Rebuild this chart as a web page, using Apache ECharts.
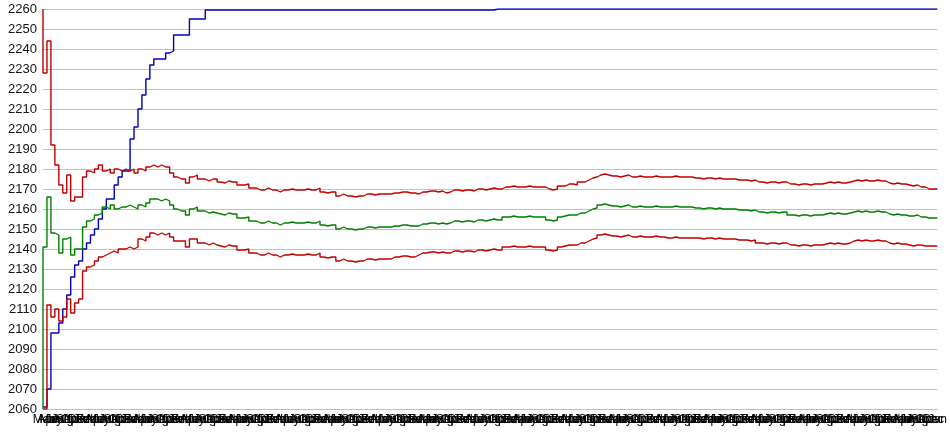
<!DOCTYPE html>
<html>
<head>
<meta charset="utf-8">
<script src="https://cdn.jsdelivr.net/npm/echarts@6/dist/echarts.min.js"></script>
<style>
html,body{margin:0;padding:0;background:#fff;}
#chart{width:950px;height:435px;}
</style>
</head>
<body>
<div id="chart"></div>
<script>
// tick label names used along the category axis
const monthLabels = ["Mar","Apr","May","Jun","Jul","Aug","Sep","Oct","Nov","Dec","Jan","Feb"];

// y-axis range
const yMin = 2060, yMax = 2260, yStep = 10;

// upper red band
const upper = [
2260,2228,2244,2192,2182,2172,2168,2177,2164,2166,2166,2176,2179,2178,2180,2182,2179,2180,2178,2180,2179,2180,2179,
2180,2178,2180,2179,2181,2182,2181,2182,2181,2181,2178,2176,2175,2175,2173,2176,2177,2175,2175,2174,2175,
2175,
2173.5,2173,2174,2173.5,2173.5,
2172,2172,2172.5,
2170.5,2170.5,
2169.5,2169.5,2170.5,2169.5,2169.5,2168.5,2169.5,2169.5,2170,2169.5,2169.5,2169.5,2170,2169.5,2169.5,2170.5,
2168.5,2168,2168.5,2168.5,
2166.5,2167.5,2166.5,2166.5,2166,2166.5,2166.5,
2167.5,2167.5,2167,2167.5,2167.5,2167.5,2167.5,
2168,2168,2168.5,2168.5,2168,2168,
2167.5,2168.5,
2168.5,2169,2169,2168.5,2169,
2168,2168.5,
2169.5,2169.5,2169,2169.5,2169.5,2169,
2170,2170,2169.5,2170,2170.5,2170,2170,
2171,2171,2171.5,2171,2171,2171,2171.5,2171,2171,2171,2171,
2170,2169.5,2170,
2171.5,2171.5,
2172.5,2172.5,2172,
2173.5,2173.5,
2174.5,
2175.5,2176,
2177,2177.5,2177,
2176.5,2176.5,2176,2176.5,
2177,
2176,2176,2176.5,2176,2176,2176,2176.5,2176,2176,2176,2176,2176.5,2176,2176,2176,2176,
2175.5,2175.5,2175,2175.5,2175.5,2175,2175.5,2175,2175,2175,2175,
2174.5,2174.5,2174.5,2174,2174.5,
2173.5,2173.5,2173,2173.5,2173.5,2173,2173.5,2173.5,
2172.5,2172.5,2172,2172.5,2172.5,2172,2172.5,2172.5,2172.5,
2173,2173.5,2173,2173.5,2173,2173,2173.5,
2174,2174.5,2174,2174.5,2174,2174,2174.5,2174,2174,
2173,2172.5,2173,2172.5,2172.5,
2172,2171.5,2172,
2171,2171,
2170,2170,2170
];

// middle green line
const middle = [
2060,2141,2166,2148,2147,2138,2145,2146,2137,2140,2140,2151,2154,2155,2157,2158,2161,2160,2162,2160,2161,2161,2162,
2161,2160,2162,2161,2163,2165,2165,2164,2165,2164,2162,2160,2159,2159,2157,2160,2161,2159,2159,2158,2158.5,
2158,
2157.5,2157,2158,2157.5,2157.5,
2155.5,2155.5,2156,
2154,2154,
2153,2153,2154,2153,2153,2152,2153,2153,2153.5,2153,2153,2153,2153.5,2153,2153,2154,
2152,2151.5,2152,2152,
2150,2151,2150,2150,2149.5,2150,2150,
2151,2151,2150.5,2151,2151,2151,2151,
2151.5,2151.5,2152,2152,2151.5,2151.5,
2151.5,2152.5,
2152.5,2153,2153,2152.5,2153,
2152.5,2153,
2154,2154,2153.5,2154,2154,2153.5,
2154.5,2154.5,2154,2154.5,2155,2154.5,2154.5,
2156,2156,2156.5,2156,2156,2156,2156.5,2156,2156,2156,2156,
2154.5,2154,2154.5,
2156,2156.5,
2157,2157,2157,
2158,2158,
2159,
2160,2160.5,
2162,2162.5,2162,
2161.5,2161.5,2161,2161.5,
2162,
2161,2161,2161.5,2161,2161,2161,2161.5,2161,2161,2161,2161,2161.5,2161,2161,2161,2161,
2160.5,2160.5,2160,2160.5,2160.5,2160,2160.5,2160,2160,2160,2160,
2159.5,2159.5,2159.5,2159,2159.5,
2158.5,2158.5,2158,2158.5,2158.5,2158,2158.5,2158.5,
2157,2157,2156.5,2157,2157,2156.5,2157,2157,2157,
2157.5,2158,2157.5,2158,2157.5,2157.5,2158,
2158.5,2159,2158.5,2159,2158.5,2158.5,2159,2158.5,2158.5,
2157.5,2157,2157.5,2157,2157,
2156.5,2156.5,2157,
2156,2156,
2155.5,2155.5,2155.5
];

// lower red band
const lower = [
2060,2060,2112,2106,2110,2104,2106,2115,2108,2113,2115,2129,2131,2132,2134,2136,2137,2138,2139,2138,2140,2140,2141,
2140,2141,2145,2144,2146,2148,2147,2148,2147,2148,2146,2144,2144,2144,2141,2145,2145,2143,2143,2142,2143,
2142,
2141.5,2141,2142,2141.5,2141.5,
2139.5,2139.5,2140,
2138,2138,
2137,2137,2138,2137,2137,2136,2137,2137,2137.5,2137,2137,2137,2137.5,2137,2137,2138,
2136,2135.5,2136,2136,
2134,2135,2134,2134,2133.5,2134,2134,
2135,2135,2134.5,2135,2135,2135,2135,
2136,2136,2136.5,2136.5,2136,2136,
2137,2138,
2138,2138.5,2138.5,2138,2138.5,
2138,2138,
2139,2139,2138.5,2139,2139,2138.5,
2139.5,2139.5,2139,2139.5,2140,2139.5,2139.5,
2141,2141,2141.5,2141,2141,2141,2141.5,2141,2141,2141,2141,
2139.5,2139,2139.5,
2141,2141.5,
2142,2142,2142,
2143,2143,
2144,
2145,2145.5,
2147,2147.5,2147,
2146.5,2146.5,2146,2146.5,
2147,
2146,2146,2146.5,2146,2146,2146,2146.5,2146,2146,2145.5,2145.5,2146,2145.5,2145.5,2145.5,2145.5,
2145.5,2145.5,2145,2145.5,2145.5,2145,2145.5,2145,2145,2145,2145,
2144.5,2144.5,2144.5,2144,2144.5,
2143,2143,2142.5,2143,2143,2142.5,2143,2143,
2142,2142,2141.5,2142,2142,2141.5,2142,2142,2142,
2142.5,2143,2142.5,2143,2142.5,2142.5,2143,
2144,2144.5,2144,2144.5,2144,2144,2144.5,2144,2144,
2143,2142.5,2143,2142.5,2142.5,
2142,2141.5,2142,
2142,2141.5,
2141.5,2141.5,2141.5
];

// blue running line
const running = [
2061,2061,2070,2098,2098,2103,2110,2117,2126,2132,2134,2140,2143,2147,2150,2155,2160,2165,2165,2172,2176,2179,2179,
2195,2201,2210,2217,2225,2232,2235,2235,2235,2238,2239,2247,2247,2247,2247,2255,2255,2255,2255,2259.5,2259.5,
2259.5,2259.5,2259.5,2259.5,2259.5,2259.5,2259.5,2259.5,2259.5,2259.5,
2259.5,2259.5,2259.5,2259.5,2259.5,2259.5,2259.5,2259.5,2259.5,2259.5,
2259.5,2259.5,2259.5,2259.5,2259.5,2259.5,2259.5,2259.5,2259.5,2259.5,
2259.5,2259.5,2259.5,2259.5,2259.5,2259.5,2259.5,2259.5,2259.5,2259.5,
2259.5,2259.5,2259.5,2259.5,2259.5,2259.5,2259.5,2259.5,2259.5,2259.5,
2259.5,2259.5,2259.5,2259.5,2259.5,2259.5,2259.5,2259.5,2259.5,2259.5,
2259.5,2259.5,2259.5,2259.5,2259.5,2259.5,2259.5,2259.5,2259.5,2259.5,
2259.5,
2260,2260,2260,2260,2260,2260,2260,2260,2260,2260,
2260,2260,2260,2260,2260,2260,2260,2260,2260,2260,
2260,2260,2260,2260,2260,2260,2260,2260,2260,2260,
2260,2260,2260,2260,2260,2260,2260,2260,2260,2260,
2260,2260,2260,2260,2260,2260,2260,2260,2260,2260,
2260,2260,2260,2260,2260,2260,2260,2260,2260,2260,
2260,2260,2260,2260,2260,2260,2260,2260,2260,2260,
2260,2260,2260,2260,2260,2260,2260,2260,2260,2260,
2260,2260,2260,2260,2260,2260,2260,2260,2260,2260,
2260,2260,2260,2260,2260,2260,2260,2260,2260,2260,
2260,2260,2260,2260,2260,2260,2260,2260,2260,2260,
2260,2260
];

const categories = upper.map((_, i) => monthLabels[i % monthLabels.length]);

const chart = echarts.init(document.getElementById('chart'), null, {renderer: 'canvas'});
const lineSeries = (name, data, color) => ({
  name, type: 'line', data, step: 'start', showSymbol: false, symbol: 'none',
  silent: true, animation: false,
  lineStyle: {width: 1.4, color}, itemStyle: {color}
});
chart.setOption({
  animation: false,
  backgroundColor: '#ffffff',
  grid: {left: 43, right: 2, top: 9, bottom: 26, containLabel: false},
  xAxis: {
    type: 'category', data: categories, boundaryGap: false,
    axisLine: {show: true, lineStyle: {color: '#c0c0c0'}},
    axisTick: {show: false},
    axisLabel: {interval: 0, fontSize: 12, color: '#000', margin: 5, fontFamily: 'Liberation Sans, Arial, sans-serif'},
    splitLine: {show: false}
  },
  yAxis: {
    type: 'value', min: yMin, max: yMax, interval: yStep,
    axisLine: {show: false}, axisTick: {show: false},
    axisLabel: {fontSize: 13, color: '#111', margin: 6, fontFamily: 'Liberation Sans, Arial, sans-serif',
      formatter: v => String(v)},
    splitLine: {show: true, lineStyle: {color: '#c0c0c0', width: 1}}
  },
  series: [
    lineSeries('running', running, '#0000c0'),
    lineSeries('lower', lower, '#c00000'),
    lineSeries('middle', middle, '#008000'),
    lineSeries('upper', upper, '#c00000')
  ]
});
</script>
</body>
</html>
